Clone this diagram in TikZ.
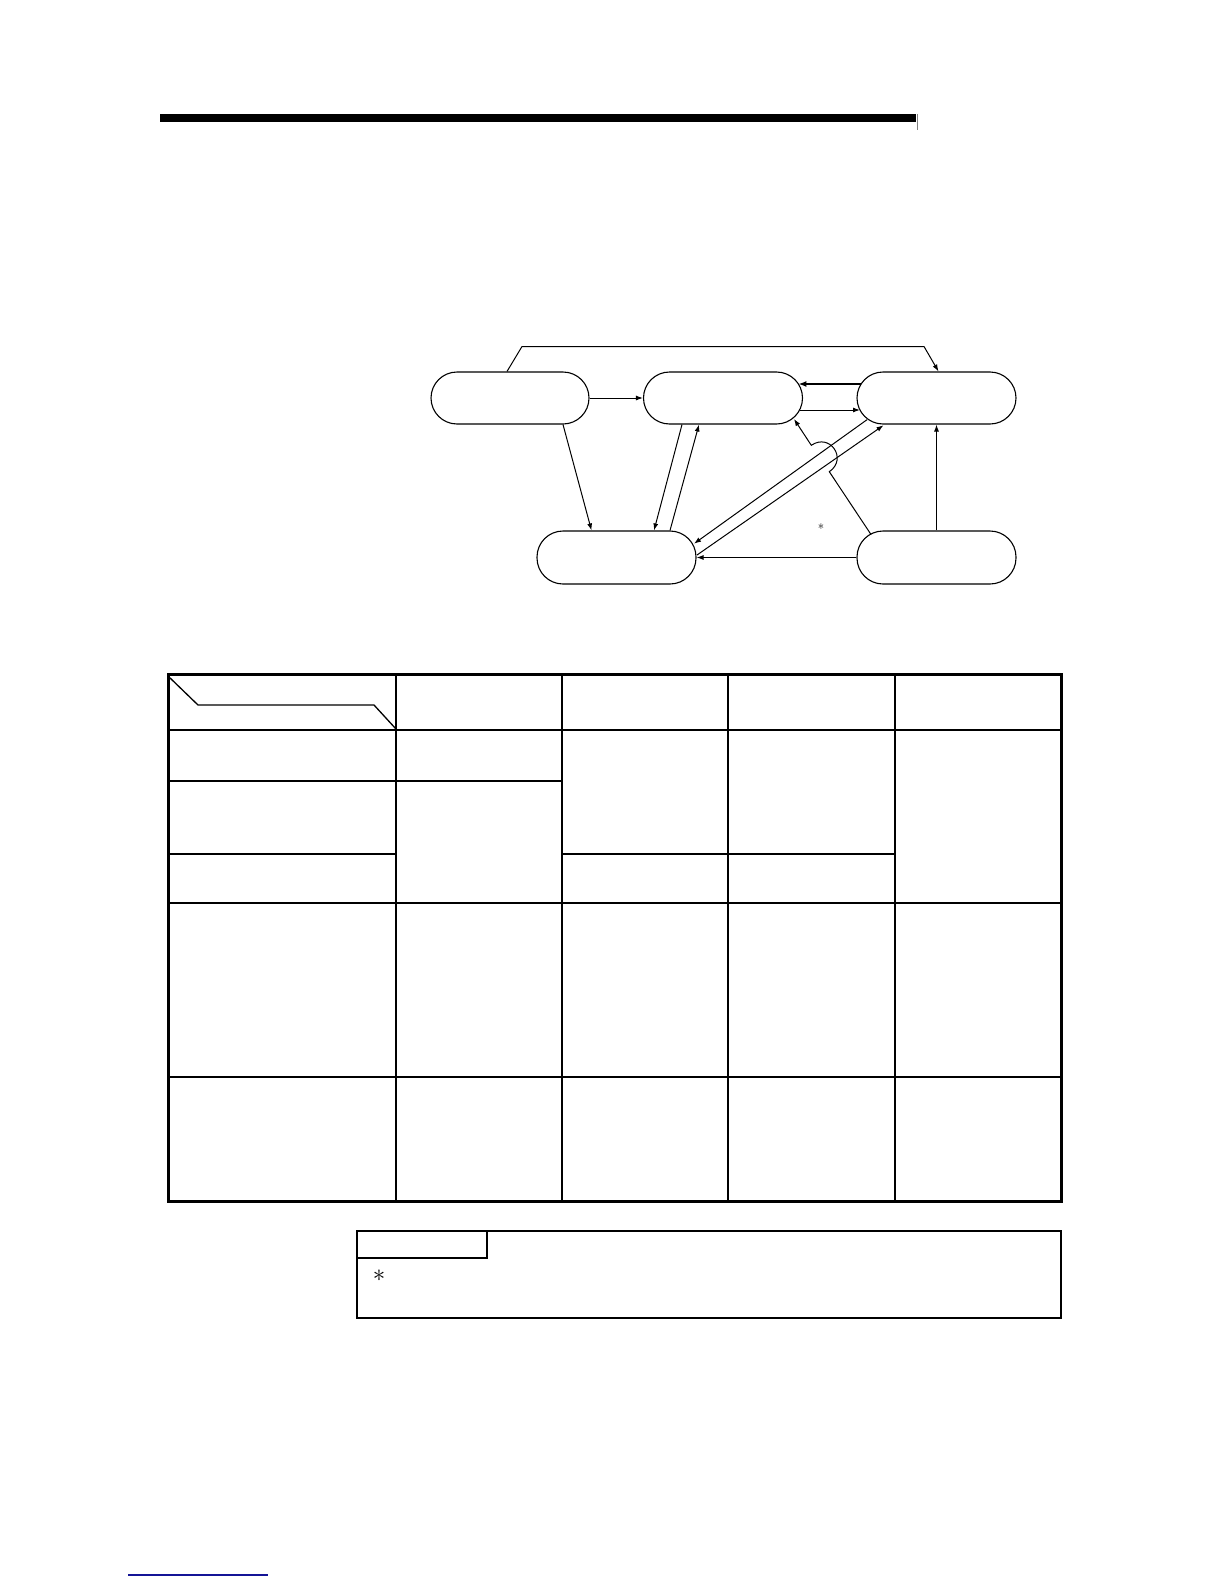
\documentclass[tikz,border=0pt]{standalone}
\usetikzlibrary{arrows.meta,calc}
\definecolor{linkblue}{RGB}{20,20,150}
\begin{document}
\begin{tikzpicture}[x=1pt,y=-1pt,
  stad/.style={draw,line width=1.1pt,rectangle,rounded corners=26pt,minimum width=159pt,minimum height=52pt,inner sep=0pt},
  conn/.style={line width=1pt,-{Latex[length=7pt,width=5pt]}},
  thickconn/.style={line width=2pt,-{Latex[length=8pt,width=6pt]}},
  thinrule/.style={line width=1.3pt},
  midrule/.style={line width=2.2pt},
  outerrule/.style={line width=3pt},
  astlabel/.style={inner sep=0pt,font=\fontsize{13}{15}\selectfont}]
\useasboundingbox (0,0) rectangle (1224,1584);

% header bar
\fill (160,114) rectangle (916,122);
\draw[gray,line width=0.6pt] (917,114) -- (917,130);

% state nodes
\node[stad,minimum width=158pt] (A) at (510,398) {};
\node[stad] (B) at (723,398) {};
\node[stad] (C) at (936.5,398) {};
\node[stad,minimum height=53pt] (D) at (616.5,557.5) {};
\node[stad,minimum height=53pt] (E) at (936.5,557.5) {};

% connectors
\draw[conn] ($(A.north)+(-3,0)$) -- (522,346.5) -- (924,346.5) -- ($(C.north)+(2,0)$);
\draw[conn] (A.east) -- (B.west);
\draw[thickconn] ($(C.center)+(-75.4,-14)$) -- ($(B.center)+(75.4,-14)$);
\draw[conn] ($(B.center)+(76.6,12)$) -- ($(C.center)+(-76.5,12)$);
\draw[conn] ($(A.south)+(53,0)$) -- ($(D.north)+(-25,0)$);
\draw[conn] ($(B.south)+(-41,0)$) -- ($(D.north)+(37.5,0)$);
\draw[conn] ($(D.north)+(53.5,0)$) -- ($(B.south)+(-24,0)$);
\draw[conn] ($(C.center)+(-69.5,21.7)$) -- ($(D.center)+(77.5,-13.8)$);
\draw[conn] ($(D.center)+(80.5,-2.5)$) -- ($(C.center)+(-53,27.3)$);
\draw[conn] (E.north) -- (C.south);
\draw[conn] (E.west) -- (D.east);
\draw[conn] ($(E.center)+(-65.5,-23)$) -- (829.3,471.7)
  .. controls (848,459) and (830,432.5) .. (811.3,445.3)
  -- ($(B.center)+(71,21)$);
\node[astlabel] (ast1) at (821,529) {*};

% table
\draw[outerrule] (168,674.5) rectangle (1061,1201);
\draw[thinrule] (396,674.5) -- (396,1201);
\draw[thinrule] (562,674.5) -- (562,1201);
\draw[thinrule] (728,674.5) -- (728,1201);
\draw[midrule] (895,674.5) -- (895,1201);
\draw[midrule] (168,730) -- (1061,730);
\draw[midrule] (168,781) -- (562,781);
\draw[thinrule] (168,854) -- (396,854);
\draw[thinrule] (562,854) -- (895,854);
\draw[thinrule] (168,903) -- (1061,903);
\draw[thinrule] (168,1077) -- (1061,1077);
\draw[thinrule] (168,676) -- (198,705) -- (374,705) -- (396,729);

% note box
\draw[line width=2.5pt] (357,1231) rectangle (1061,1318);
\draw[thinrule] (357,1258) -- (487,1258) -- (487,1231);
\node[inner sep=0pt,font=\fontsize{24}{24}\selectfont] (ast2) at (379,1276) {$\ast$};

% footer link line
\draw[linkblue,line width=1.3pt] (128,1575) -- (268,1575);
\end{tikzpicture}
\end{document}
